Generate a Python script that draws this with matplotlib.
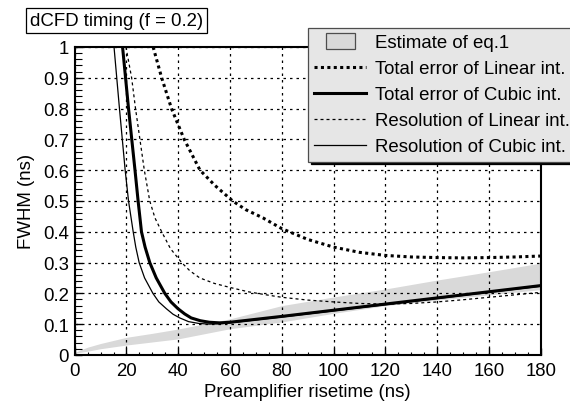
import numpy as np
import matplotlib
matplotlib.use("Agg")
import matplotlib.pyplot as plt
from matplotlib.patches import Rectangle
from matplotlib.legend_handler import HandlerPatch
from matplotlib.ticker import MultipleLocator, FuncFormatter

plt.rcParams['font.family'] = ['Liberation Sans', 'DejaVu Sans']
plt.rcParams['font.size'] = 13.4

# shaded estimate band (eq.1)
band_x = [0, 2, 5, 10, 20, 30, 40, 60, 80, 100, 120, 140, 160, 180]
band_lo = [0.005, 0.008, 0.012, 0.02, 0.032, 0.042, 0.052, 0.085, 0.107, 0.135, 0.16, 0.178, 0.195, 0.212]
band_hi = [0.008, 0.015, 0.025, 0.037, 0.057, 0.07, 0.084, 0.117, 0.16, 0.188, 0.214, 0.243, 0.27, 0.298]

# total error, linear interpolation
tot_lin_x = [30.3, 33.6, 37.4, 42.3, 48.4, 54.2, 61, 66, 72.7, 80, 90, 100, 110, 120, 130, 140, 150, 160, 170, 180]
tot_lin_y = [1.0, 0.9, 0.8, 0.7, 0.6, 0.55, 0.5, 0.472, 0.445, 0.41, 0.375, 0.35, 0.333, 0.323, 0.318, 0.316, 0.315, 0.316, 0.318, 0.321]

# total error, cubic interpolation
tot_cub_x = [18.5, 20.8, 23.3, 24.5, 25.8, 27.2, 29, 31.5, 34.8, 37.2, 39.9, 42.5, 45, 48.5, 52, 56, 60, 80, 100, 120, 140, 160, 180]
tot_cub_y = [1.0, 0.8, 0.6, 0.5, 0.4, 0.35, 0.3, 0.25, 0.2, 0.172, 0.15, 0.133, 0.12, 0.111, 0.106, 0.104, 0.106, 0.125, 0.145, 0.165, 0.185, 0.205, 0.225]

# resolution, linear interpolation
res_lin_x = [19.8, 22, 23.5, 25.2, 26.9, 29, 31, 33.6, 37, 41.3, 44.5, 48.3, 54, 60, 67, 74, 80, 90, 100, 110, 120, 130, 140, 150, 160, 170, 180]
res_lin_y = [1.0, 0.9, 0.8, 0.7, 0.6, 0.5, 0.445, 0.4, 0.345, 0.3, 0.273, 0.25, 0.232, 0.219, 0.205, 0.195, 0.187, 0.178, 0.172, 0.167, 0.165, 0.167, 0.172, 0.179, 0.187, 0.195, 0.203]

# resolution, cubic interpolation
res_cub_x = [15.2, 17.3, 19.5, 20.8, 22.6, 23.6, 24.9, 27, 30.2, 32.5, 35.4, 38, 40.6, 44, 48, 52, 56, 60, 80, 100, 120, 140, 160, 180]
res_cub_y = [1.0, 0.8, 0.6, 0.5, 0.4, 0.35, 0.3, 0.25, 0.2, 0.172, 0.15, 0.132, 0.12, 0.108, 0.102, 0.1, 0.101, 0.104, 0.123, 0.143, 0.163, 0.183, 0.203, 0.223]

labels = ['Estimate of eq.1', 'Total error of Linear int.', 'Total error of Cubic int.',
          'Resolution of Linear int.', 'Resolution of Cubic int.']

fig = plt.figure(figsize=(5.7, 4.1), dpi=100)
ax = fig.add_axes([0.131, 0.132, 0.8176, 0.751])

ax.fill_between(band_x, band_lo, band_hi, color='#d9d9d9', lw=0, zorder=1)
l1, = ax.plot(tot_lin_x, tot_lin_y, color='k', lw=2.2, ls=(0, (1, 1.1)), zorder=3, label=labels[1])
l2, = ax.plot(tot_cub_x, tot_cub_y, color='k', lw=2.2, zorder=4, label=labels[2])
l3, = ax.plot(res_lin_x, res_lin_y, color='k', lw=0.9, ls=(0, (2.4, 2.4)), zorder=3, label=labels[3])
l4, = ax.plot(res_cub_x, res_cub_y, color='k', lw=0.9, zorder=3, label=labels[4])
band_proxy = Rectangle((0, 0), 1, 1, fc='#d9d9d9', ec='0.3', lw=0.9, label=labels[0])

ax.set_xlim(0, 180)
ax.set_ylim(0, 1)
ax.xaxis.set_major_locator(MultipleLocator(20))
ax.xaxis.set_minor_locator(MultipleLocator(5))
ax.yaxis.set_major_locator(MultipleLocator(0.1))
ax.yaxis.set_minor_locator(MultipleLocator(0.02))
ax.yaxis.set_major_formatter(FuncFormatter(lambda v, p: '{:g}'.format(round(v, 2))))
ax.tick_params(which='both', direction='in', top=False, right=False)
ax.tick_params(axis='x', which='major', length=5, width=1, pad=5)
ax.tick_params(axis='x', which='minor', length=2.5, width=0.8)
ax.tick_params(axis='y', which='major', length=5, width=1, pad=4)
ax.tick_params(axis='y', which='minor', length=5, width=0.8)
ax.grid(True, which='major', color='k', lw=0.9, ls=(0, (2, 3.2)))
for s in ax.spines.values():
    s.set_linewidth(1.5)

ax.set_xlabel('Preamplifier risetime (ns)', labelpad=3)
ax.set_ylabel('FWHM (ns)', labelpad=6)

fig.text(0.053, 0.948, 'dCFD timing (f = 0.2)', ha='left', va='center',
         bbox=dict(boxstyle='square,pad=0.2', fc='white', ec='k', lw=0.9))


def small_patch(legend, orig_handle, xdescent, ydescent, width, height, fontsize):
    w = width * 0.56
    return Rectangle((-xdescent + (width - w) / 2, -ydescent - 1), w, height + 2)


leg = ax.legend(handles=[band_proxy, l1, l2, l3, l4], loc='upper left',
                bbox_to_anchor=(0.54, 0.93), bbox_transform=fig.transFigure,
                borderaxespad=0, frameon=True, fancybox=False,
                shadow={'color': 'k', 'alpha': 1}, facecolor='#e6e6e6', framealpha=1,
                edgecolor='0.3', handlelength=2.8, handletextpad=0.45,
                labelspacing=0.48, borderpad=0.35,
                handler_map={Rectangle: HandlerPatch(patch_func=small_patch)})
leg.get_frame().set_linewidth(0.9)
leg.set_zorder(10)

fig.savefig('out.png', dpi=100)
